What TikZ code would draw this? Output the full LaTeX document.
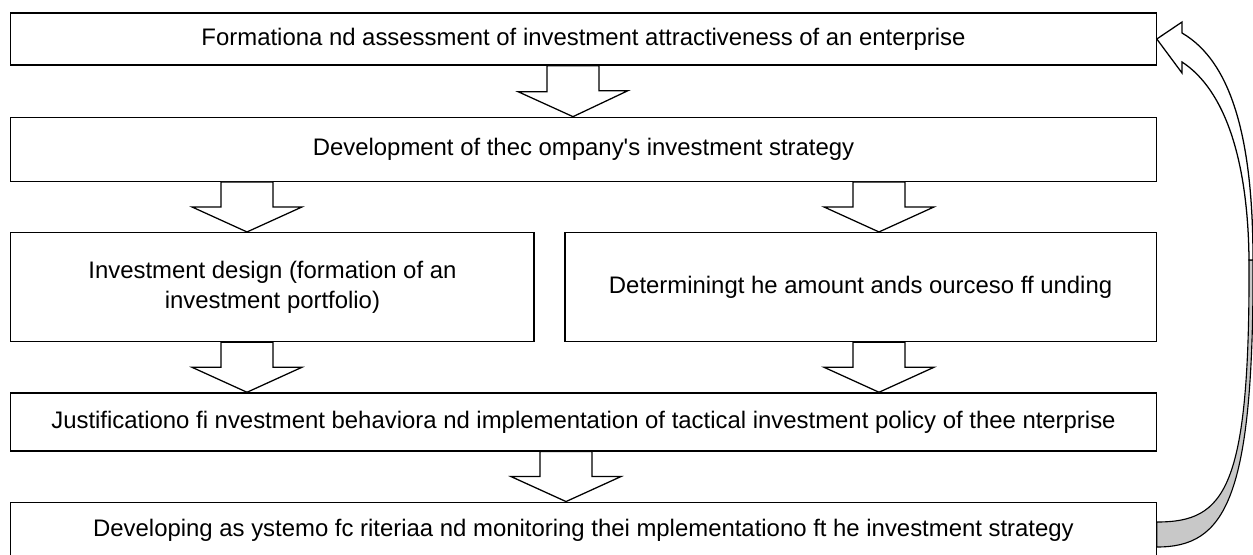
\documentclass[tikz,border=0pt]{standalone}
\usepackage{fontspec}
\setmainfont{Liberation Sans}
\usetikzlibrary{positioning,calc}
\definecolor{backgray}{RGB}{200,200,200}

% wide hollow arrow from the bottom of #1 to the top of #2, at x = #3
\newcommand\blockarrow[3]{%
  \path[barrow] (#1.south -| #3,0) ++(-26,0) -- ++(52,0) -- ++(0,25)
    -- ++(29,0) -- (#2.north -| #3,0) -- ++(-55,-25) -- ++(29,0) -- cycle;}

\begin{document}
\begin{tikzpicture}[
  x = 0.025cm,
  y = -0.025cm,
  box/.style = {
    draw,
    rectangle,
    line width = 0.9pt,
    fill = white,
    align = center,
    inner sep = 0pt,
    font = \fontsize{17}{21.3}\selectfont,
  },
  wide/.style = {
    box,
    minimum width = 28.625cm,
  },
  barrow/.style = {
    draw,
    line width = 0.9pt,
    fill = white,
  },
  backpart/.style = {
    draw,
    line width = 0.8pt,
    fill = backgray,
  },
]

  \useasboundingbox (0,0) rectangle (1253,554);

  %
  \node[wide, minimum height=1.3cm] (form) at (583.5,39)
    {Formationa nd assessment of investment attractiveness of an enterprise};
  \node[wide, minimum height=1.6cm] (strat) [below=1.275cm of form]
    {Development of thec ompany\textquotesingle s investment strategy};

  \node[box, minimum width=13.075cm, minimum height=2.725cm] (design)
    [below=1.25cm of strat.south west, anchor=north west]
    {Investment design (formation of an\\investment portfolio)};
  \node[box, minimum width=14.775cm, minimum height=2.725cm] (funds)
    [below=1.25cm of strat.south east, anchor=north east]
    {Determiningt he amount ands ourceso ff unding};

  \node[wide, minimum height=1.45cm] (tact)
    [below=1.25cm of design.south west, anchor=north west]
    {Justificationo fi nvestment behaviora nd implementation of tactical investment policy of thee nterprise};
  \node[wide, minimum height=1.4cm] (monit) [below=1.25cm of tact]
    {Developing as ystemo fc riteriaa nd monitoring thei mplementationo ft he investment strategy};

  %
  \blockarrow{form}{strat}{573}
  \blockarrow{strat}{design}{247}
  \blockarrow{strat}{funds}{879}
  \blockarrow{design}{tact}{247}
  \blockarrow{funds}{tact}{879}
  \blockarrow{tact}{monit}{566}

  % back loop
  \path[backpart] (1253,260) .. controls (1254,500) and (1225,547) .. (monit.east |- 0,547)
    -- (monit.east |- 0,522) .. controls (1225,522) and (1250,490) .. (1249,260) -- cycle;
  \path[barrow] (form.east) -- (1182,22) -- (1182,33)
    .. controls (1232,62) and (1253,140) .. (1253,260) -- (1249,260)
    .. controls (1248,160) and (1225,90) .. (1182,62) -- (1182,73) -- cycle;

\end{tikzpicture}
\end{document}
